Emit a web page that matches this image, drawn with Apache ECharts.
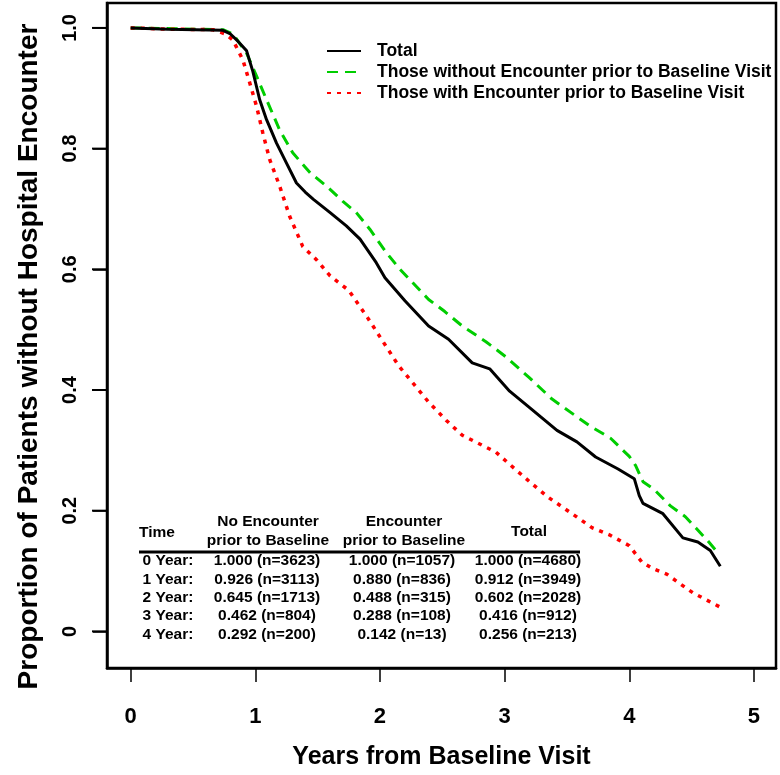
<!DOCTYPE html>
<html>
<head>
<meta charset="utf-8">
<script src="https://cdn.jsdelivr.net/npm/echarts@6/dist/echarts.min.js"></script>
<style>
  html, body { margin: 0; padding: 0; background: #fff; }
  #km-chart { width: 780px; height: 775px; }
</style>
</head>
<body>
<div id="km-chart"></div>
<script>
// kaplan-meier curves, time to first hospital encounter

var xTicks = [0, 1, 2, 3, 4, 5];
var yTicks = [0, 0.2, 0.4, 0.6, 0.8, 1.0];

var seriesNames = ['Total', 'Those without Encounter prior to Baseline Visit', 'Those with Encounter prior to Baseline Visit'];

// total
var timeTotal = [0, 0.3, 0.74, 0.80, 0.86, 0.93, 0.98, 1.035, 1.09, 1.17, 1.25, 1.33, 1.40, 1.466, 1.60, 1.73, 1.84, 1.97, 2.04, 2.2, 2.39, 2.55, 2.74, 2.88, 3.04, 3.21, 3.42, 3.58, 3.73, 3.91, 4.04, 4.08, 4.11, 4.27, 4.43, 4.55, 4.65, 4.73];
var survTotal = [1.0, 0.998, 0.996, 0.99, 0.978, 0.962, 0.928, 0.881, 0.848, 0.809, 0.776, 0.743, 0.728, 0.716, 0.694, 0.672, 0.650, 0.611, 0.586, 0.548, 0.506, 0.484, 0.445, 0.435, 0.398, 0.369, 0.333, 0.314, 0.289, 0.269, 0.253, 0.225, 0.212, 0.195, 0.155, 0.148, 0.134, 0.108];

// no encounter before baseline
var timeNoEnc = [0, 0.3, 0.74, 0.82, 0.93, 1.01, 1.09, 1.195, 1.30, 1.44, 1.57, 1.70, 1.81, 1.92, 2.05, 2.16, 2.39, 2.52, 2.66, 2.85, 3.01, 3.2, 3.38, 3.55, 3.68, 3.85, 4.0, 4.05, 4.11, 4.2, 4.33, 4.45, 4.54, 4.63, 4.72];
var survNoEnc = [1.0, 0.999, 0.997, 0.99, 0.958, 0.92, 0.881, 0.831, 0.793, 0.760, 0.738, 0.713, 0.694, 0.666, 0.628, 0.600, 0.55, 0.53, 0.506, 0.48, 0.455, 0.42, 0.385, 0.36, 0.341, 0.32, 0.29, 0.275, 0.248, 0.235, 0.208, 0.19, 0.170, 0.15, 0.128];

// encounter before baseline
var timeEnc = [0, 0.3, 0.66, 0.76, 0.82, 0.90, 0.955, 1.01, 1.06, 1.115, 1.195, 1.275, 1.38, 1.49, 1.60, 1.75, 1.9, 2.0, 2.15, 2.27, 2.39, 2.53, 2.66, 2.93, 3.05, 3.2, 3.35, 3.52, 3.7, 3.84, 4.0, 4.1, 4.19, 4.3, 4.4, 4.51, 4.62, 4.73];
var survEnc = [1.0, 0.998, 0.997, 0.99, 0.98, 0.947, 0.909, 0.870, 0.826, 0.782, 0.738, 0.688, 0.638, 0.616, 0.589, 0.565, 0.52, 0.488, 0.44, 0.41, 0.38, 0.35, 0.325, 0.297, 0.275, 0.248, 0.222, 0.198, 0.172, 0.160, 0.142, 0.115, 0.104, 0.095, 0.08, 0.064, 0.052, 0.040];

// table inside the plot
var tableHeader = ['Time', 'No Encounter\nprior to Baseline', 'Encounter\nprior to Baseline', 'Total'];
var tableTimes = ['0 Year:', '1 Year:', '2 Year:', '3 Year:', '4 Year:'];
var tableNoEnc = ['1.000 (n=3623)', '0.926 (n=3113)', '0.645 (n=1713)', '0.462 (n=804)', '0.292 (n=200)'];
var tableEnc = ['1.000 (n=1057)', '0.880 (n=836)', '0.488 (n=315)', '0.288 (n=108)', '0.142 (n=13)'];
var tableTotal = ['1.000 (n=4680)', '0.912 (n=3949)', '0.602 (n=2028)', '0.416 (n=912)', '0.256 (n=213)'];

var FONT = '"Liberation Sans", Arial, sans-serif';
var X_MIN = -0.19;

function pairs(xs, ys) {
    var out = [];
    for (var i = 0; i < xs.length; i++) {
        out.push([xs[i], ys[i]]);
    }
    return out;
}

function txt(s, x, y, align) {
    return {
        type: 'text', x: x, y: y,
        style: { text: s, fontFamily: FONT, fontWeight: 'bold', fontSize: 15.5, lineHeight: 19, fill: '#000', align: align || 'center', verticalAlign: 'middle' }
    };
}

// table text as graphic elements
function buildTable() {
    var els = [];
    var headX = [139, 268, 404, 529];
    els.push(txt(tableHeader[0], headX[0], 533, 'left'));
    els.push(txt(tableHeader[1], headX[1], 531));
    els.push(txt(tableHeader[2], headX[2], 531));
    els.push(txt(tableHeader[3], headX[3], 532));
    els.push({ type: 'line', shape: { x1: 139, y1: 552, x2: 580, y2: 552 }, style: { stroke: '#000', lineWidth: 3 } });
    var colX = [168, 267, 402, 528];
    var cols = [tableTimes, tableNoEnc, tableEnc, tableTotal];
    for (var r = 0; r < tableTimes.length; r++) {
        for (var k = 0; k < cols.length; k++) {
            els.push(txt(cols[k][r], colX[k], 561 + r * 18.4));
        }
    }
    return els;
}

var chart = echarts.init(document.getElementById('km-chart'), null, { renderer: 'canvas' });

var option = {
    animation: false,
    backgroundColor: '#fff',
    grid: {
        left: 107, right: 4, top: 3, bottom: 105,
        show: true, borderColor: '#000', borderWidth: 2.5, backgroundColor: 'transparent'
    },
    legend: {
        orient: 'vertical',
        left: 326, top: 42, padding: 0,
        itemWidth: 34, itemHeight: 14, itemGap: 3,
        itemStyle: { opacity: 0 },
        textStyle: { fontFamily: FONT, fontWeight: 'bold', fontSize: 17.5, color: '#000', padding: [0, 0, 0, 11] },
        data: seriesNames
    },
    xAxis: {
        type: 'value', min: X_MIN, max: 5.177,
        name: 'Years from Baseline Visit', nameLocation: 'middle', nameGap: 77,
        nameTextStyle: { fontFamily: FONT, fontWeight: 'bold', fontSize: 25, color: '#000' },
        axisLine: { show: true, onZero: false, lineStyle: { color: '#000', width: 2.5 } },
        splitLine: { show: false },
        axisTick: { show: true, inside: false, length: 14, customValues: xTicks, lineStyle: { color: '#000', width: 1.5 } },
        axisLabel: { customValues: xTicks, margin: 38, fontFamily: FONT, fontWeight: 'bold', fontSize: 22, color: '#000' }
    },
    yAxis: {
        type: 'value', min: -0.0607, max: 1.0413,
        name: 'Proportion of Patients without Hospital Encounter', nameLocation: 'middle', nameGap: 64,
        nameTextStyle: { fontFamily: FONT, fontWeight: 'bold', fontSize: 28, color: '#000', padding: [0, 42, 0, 0] },
        axisLine: { show: true, onZero: false, lineStyle: { color: '#000', width: 2.5 } },
        splitLine: { show: false },
        axisTick: { show: true, inside: false, length: 14, customValues: yTicks, lineStyle: { color: '#000', width: 1.5 } },
        axisLabel: {
            customValues: yTicks, rotate: 90, margin: 27,
            fontFamily: FONT, fontWeight: 'bold', fontSize: 20, color: '#000',
            formatter: function (v) { return v === 0 ? '0' : v.toFixed(1); }
        }
    },
    graphic: buildTable(),
    series: [
        {
            name: seriesNames[0], type: 'line', symbol: 'none', z: 4,
            lineStyle: { color: '#000', width: 3, type: 'solid' },
            itemStyle: { color: '#000' },
            data: pairs(timeTotal, survTotal)
        },
        {
            name: seriesNames[1], type: 'line', symbol: 'none', z: 3,
            lineStyle: { color: '#00cd00', width: 3, type: [11, 7] },
            itemStyle: { color: '#00cd00' },
            data: pairs(timeNoEnc, survNoEnc)
        },
        {
            name: seriesNames[2], type: 'line', symbol: 'none', z: 3,
            lineStyle: { color: '#ff0000', width: 3.5, type: [4, 6] },
            itemStyle: { color: '#ff0000' },
            data: pairs(timeEnc, survEnc)
        }
    ]
};

chart.setOption(option);

// y tick marks placed through the grid's scale, on their own layer on top
var els = buildTable();
yTicks.forEach(function (v) {
    var p = chart.convertToPixel({ gridIndex: 0 }, [X_MIN, v]);
    if (p && isFinite(p[0]) && isFinite(p[1])) {
        els.push({
            type: 'rect', zlevel: 5, z: 100,
            shape: { x: p[0] - 15, y: p[1] - 1, width: 15, height: 2 },
            style: { fill: '#000' }
        });
    }
});
chart.setOption({ graphic: els }, { replaceMerge: ['graphic'] });
</script>
</body>
</html>
